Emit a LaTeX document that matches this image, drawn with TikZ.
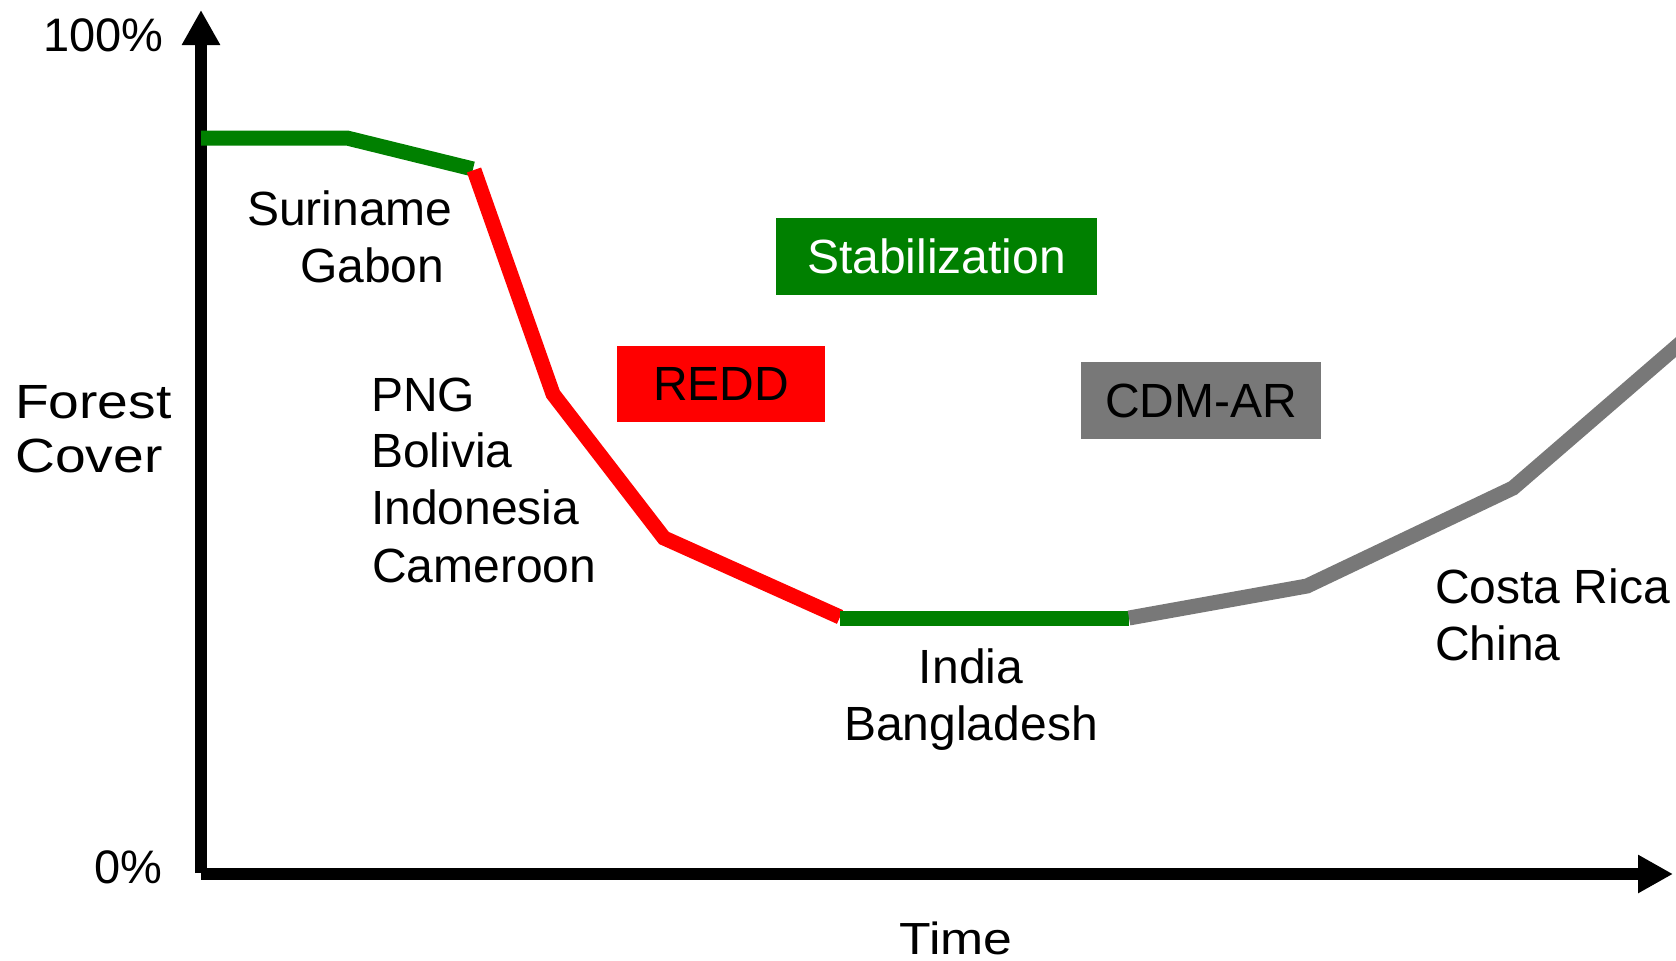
\documentclass[tikz,border=0pt]{standalone}
\usepackage{fontspec}
\usepackage{graphicx}
\setmainfont{Liberation Sans}
\usetikzlibrary{arrows.meta}
\definecolor{trendgreen}{RGB}{0,128,0}
\definecolor{trendred}{RGB}{255,0,0}
\definecolor{trendgray}{RGB}{120,120,120}
\begin{document}
\begin{tikzpicture}[x=1pt,y=-1pt,
  lbl/.style={inner sep=0pt,font=\fontsize{48}{57}\selectfont},
  pct/.style={inner sep=0pt,font=\fontsize{47}{55}\selectfont},
  wide/.style={inner sep=0pt,font=\fontsize{48}{57}\selectfont},
  tagbox/.style={minimum height=77pt,inner sep=0pt,font=\fontsize{48}{57}\selectfont},
  axis/.style={line width=12pt,-{Triangle[length=35pt,width=36pt]}},
  trend/.style={line width=15pt,line cap=butt,line join=miter}]
\useasboundingbox (0,0) rectangle (1676,961);

% axes
\coordinate (origin) at (201,873);
\coordinate (ytip) at (201,10);
\coordinate (xstart) at (201,874);
\coordinate (xtip) at (1673,874);
\draw[axis] (origin) -- (ytip);
\draw[axis] (xstart) -- (xtip);

% forest cover path
\coordinate (g0) at (201,138);
\coordinate (g1) at (347,138);
\coordinate (g2) at (473,169);
\coordinate (r0) at (474,170);
\coordinate (r1) at (553,394);
\coordinate (r2) at (664,538);
\coordinate (r3) at (840,617);
\coordinate (s0) at (840,618);
\coordinate (s1) at (1129,618);
\coordinate (c1) at (1307,586);
\coordinate (c2) at (1513,488);
\coordinate (c3) at (1690,335);
\draw[trend,trendgreen] (g0) -- (g1) -- (g2);
\draw[trend,trendred] (r0) -- (r1) -- (r2) -- (r3);
\draw[trend,trendgreen] (s0) -- (s1);
\draw[trend,trendgray] (s1) -- (c1) -- (c2) -- (c3);

% axis labels
\node[pct,anchor=base west] (full) at (43,51) {100\%};
\node[pct,anchor=base west] (zero) at (94,883) {0\%};
\node[wide,anchor=base west] (forest) at (15,418) {\scalebox{1.15}[1]{Forest}};
\node[wide,anchor=base west] (cover) at (15,472) {\scalebox{1.15}[1]{Cover}};
\node[inner sep=0pt,anchor=base,font=\fontsize{45}{54}\selectfont] (time) at (956,954) {\scalebox{1.15}[1]{Time}};

% country groups
\node[lbl,anchor=base west] (sur) at (247,225) {Suriname};
\node[lbl,anchor=base west] (gab) at (300,282) {Gabon};
\node[lbl,anchor=base west] (png) at (371,411) {PNG};
\node[lbl,anchor=base west] (bol) at (371,467) {Bolivia};
\node[lbl,anchor=base west] (ind) at (371,524) {Indonesia};
\node[lbl,anchor=base west] (cam) at (372,582) {Cameroon};
\node[lbl,anchor=base] (india) at (971,683) {India};
\node[lbl,anchor=base] (bang) at (971,740) {Bangladesh};
\node[lbl,anchor=base west] (costa) at (1435,603) {Costa Rica};
\node[lbl,anchor=base west] (china) at (1435,660) {China};

% mechanism boxes
\node[tagbox,fill=trendgreen,text=white,minimum width=321pt] (stab) at (936.5,256.5) {Stabilization};
\node[tagbox,fill=trendred,text=black,minimum width=208pt,minimum height=76pt] (redd) at (721,384) {REDD};
\node[tagbox,fill=trendgray,text=black,minimum width=240pt] (cdm) at (1201,400.5) {CDM-AR};
\end{tikzpicture}
\end{document}
